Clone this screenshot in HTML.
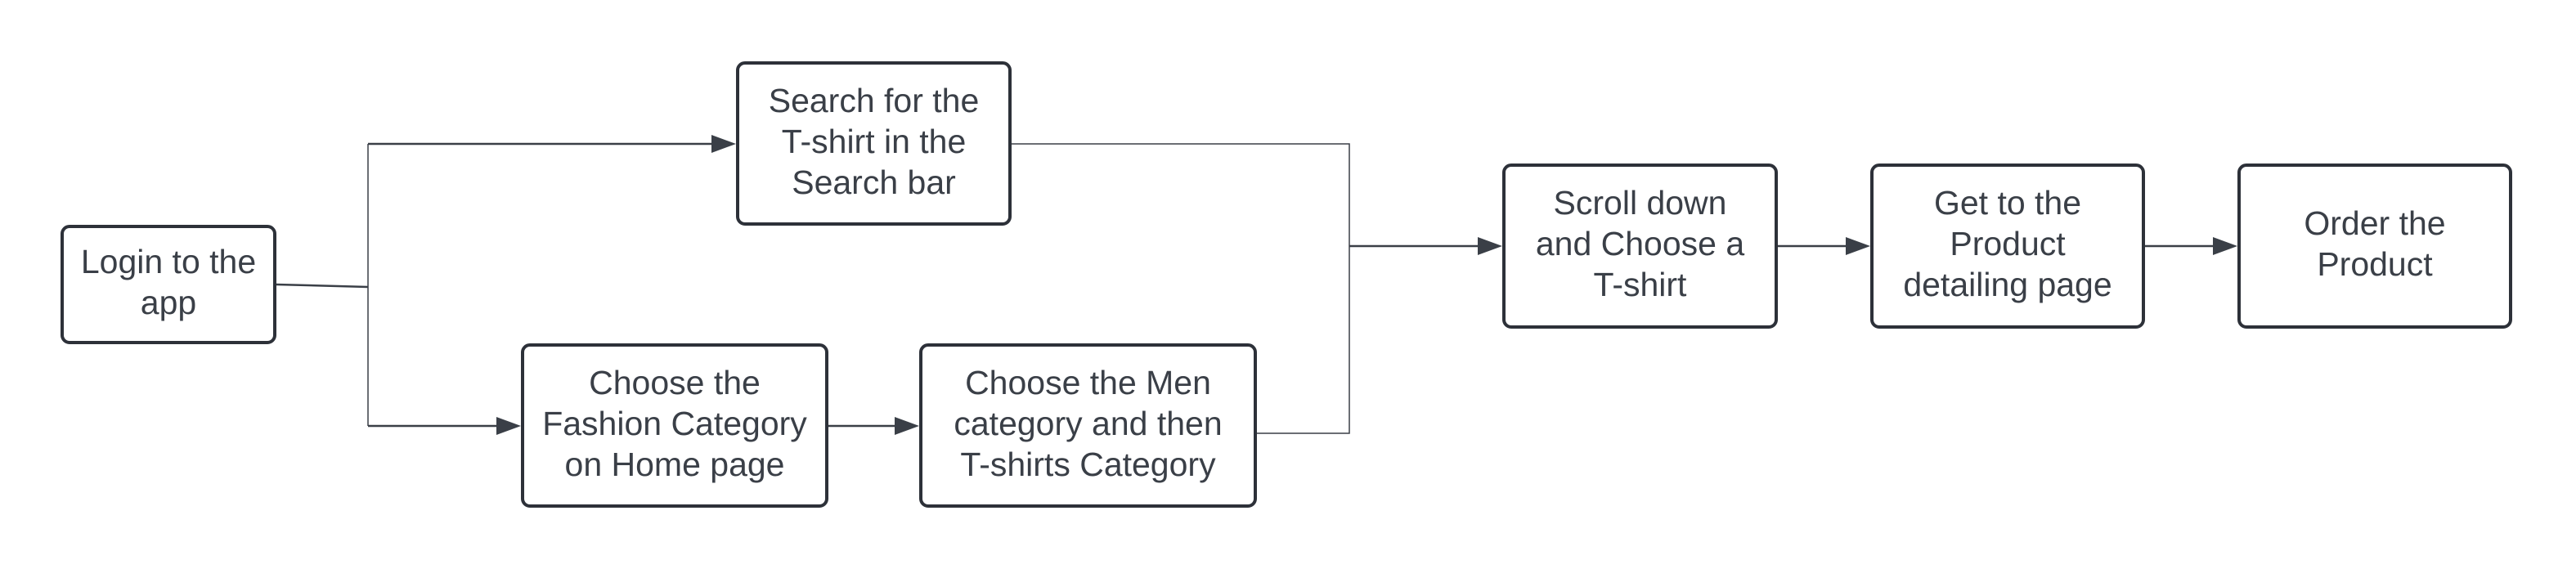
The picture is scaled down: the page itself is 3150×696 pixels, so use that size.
<!DOCTYPE html>
<html><head><meta charset="utf-8"><style>
html,body{margin:0;padding:0;background:#fff;}
body{width:3150px;height:696px;position:relative;overflow:hidden;font-family:"Liberation Sans",Arial,sans-serif;}
.b{position:absolute;box-sizing:border-box;border:4px solid #2d3139;border-radius:11px;background:#fff;display:flex;align-items:center;justify-content:center;text-align:center;color:#3a3f47;font-size:41px;line-height:50px;padding-bottom:6px;}
svg{position:absolute;left:0;top:0;}
</style></head><body>
<svg width="3150" height="696" viewBox="0 0 3150 696">
<g stroke="#3a3f47" fill="none">
<path d="M338 348 L450 351" stroke-width="2.5"/>
<path d="M450 176 L450 521" stroke-width="1.5"/>
<path d="M450 176 L872 176" stroke-width="2.5"/>
<path d="M450 521 L610 521" stroke-width="2.5"/>
<path d="M1013 521 L1097 521" stroke-width="2.5"/>
<path d="M1237 176 L1650 176 L1650 530 L1537 530" stroke-width="1.5"/>
<path d="M1650 301 L1810 301" stroke-width="2.5"/>
<path d="M2174 301 L2260 301" stroke-width="2.5"/>
<path d="M2623 301 L2709 301" stroke-width="2.5"/>
</g>
<g fill="#3a3f47">
<polygon points="900,176 870,165 870,187"/>
<polygon points="637,521 607,510 607,532"/>
<polygon points="1124,521 1094,510 1094,532"/>
<polygon points="1837,301 1807,290 1807,312"/>
<polygon points="2287,301 2257,290 2257,312"/>
<polygon points="2736,301 2706,290 2706,312"/>
</g>
</svg>
<div class="b" style="left:74px;top:275px;width:264px;height:146px;">Login to the<br>app</div>
<div class="b" style="left:900px;top:75px;width:337px;height:201px;">Search for the<br>T-shirt in the<br>Search bar</div>
<div class="b" style="left:637px;top:420px;width:376px;height:201px;">Choose the<br>Fashion Category<br>on Home page</div>
<div class="b" style="left:1124px;top:420px;width:413px;height:201px;">Choose the Men<br>category and then<br>T-shirts Category</div>
<div class="b" style="left:1837px;top:200px;width:337px;height:202px;">Scroll down<br>and Choose a<br>T-shirt</div>
<div class="b" style="left:2287px;top:200px;width:336px;height:202px;">Get to the<br>Product<br>detailing page</div>
<div class="b" style="left:2736px;top:200px;width:336px;height:202px;">Order the<br>Product</div>
</body></html>
